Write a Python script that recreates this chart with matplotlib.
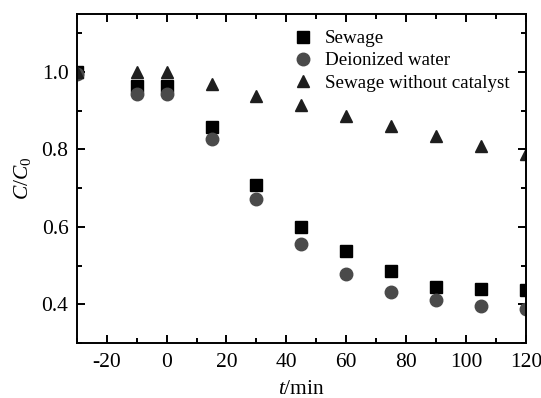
import matplotlib

matplotlib.use("Agg")
import matplotlib.pyplot as plt
from matplotlib.ticker import MultipleLocator

plt.rcParams["font.family"] = ["Liberation Serif", "DejaVu Serif"]
plt.rcParams["mathtext.fontset"] = "custom"
plt.rcParams["mathtext.it"] = "Liberation Serif:italic"
plt.rcParams["mathtext.rm"] = "Liberation Serif"
plt.rcParams["axes.unicode_minus"] = False

t = [-30, -10, 0, 15, 30, 45, 60, 75, 90, 105, 120]
sewage = [1.0, 0.964, 0.963, 0.857, 0.707, 0.600, 0.539, 0.486, 0.446, 0.440, 0.436]
deionized = [0.995, 0.943, 0.943, 0.828, 0.673, 0.557, 0.479, 0.431, 0.410, 0.395, 0.387]
no_catalyst = [1.0, 1.0, 1.0, 0.970, 0.938, 0.914, 0.887, 0.861, 0.835, 0.809, 0.788]

fig = plt.figure(figsize=(5.41, 3.98), dpi=100)
ax = fig.add_axes([0.142, 0.138, 0.83, 0.827])

ax.plot(t, sewage, "s", color="black", markersize=8.5, label="Sewage", linestyle="none")
ax.plot(t, deionized, "o", color="#4a4a4a", markersize=9, label="Deionized water", linestyle="none")
ax.plot(t, no_catalyst, "^", color="#1e1e1e", markersize=9, label="Sewage without catalyst", linestyle="none")

ax.set_xlim(-30, 120)
ax.set_ylim(0.3, 1.15)
ax.xaxis.set_minor_locator(MultipleLocator(10))
ax.yaxis.set_minor_locator(MultipleLocator(0.1))
ax.set_xticks([-20, 0, 20, 40, 60, 80, 100, 120])
ax.set_yticks([0.4, 0.6, 0.8, 1.0])
ax.tick_params(which="both", direction="in", top=True, right=True, labelsize=15.5, width=1.4)
ax.tick_params(which="major", length=6)
ax.tick_params(which="minor", length=3.5)
ax.tick_params(axis="x", which="major", pad=7)
ax.tick_params(axis="y", which="major", pad=6)
for s in ax.spines.values():
    s.set_linewidth(1.4)

ax.set_xlabel("$t$/min", fontsize=15.5, labelpad=6)
ax.set_ylabel("$C$/$C_0$", fontsize=15.5, labelpad=6)

ax.legend(loc="upper left", bbox_to_anchor=(0.44, 1.0), frameon=False, fontsize=13.7,
          handletextpad=0.5, labelspacing=0.25, handlelength=1.3, borderpad=0.35)

fig.savefig("out.png", dpi=100)
